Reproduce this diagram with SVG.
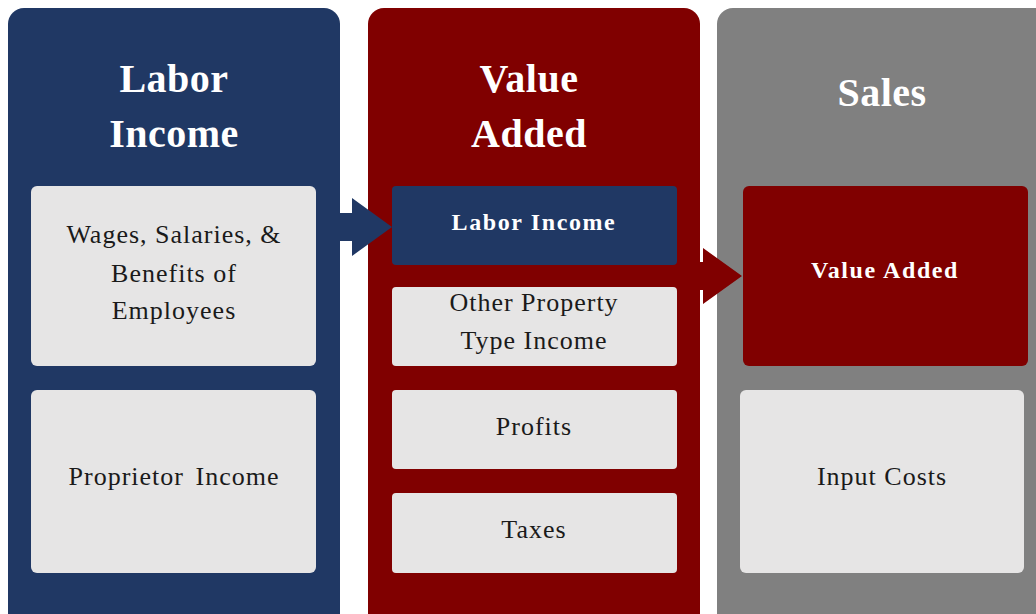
<svg xmlns="http://www.w3.org/2000/svg" width="1036" height="614" viewBox="0 0 1036 614">
<style>
.hd{font-family:"Liberation Serif","DejaVu Serif",serif;font-weight:bold;font-size:40px;fill:#fff;text-anchor:middle;letter-spacing:0.5px}
.bx{font-family:"Liberation Serif","DejaVu Serif",serif;font-size:26px;fill:#1a1a1a;text-anchor:middle;letter-spacing:1px}
.bw{font-family:"Liberation Serif","DejaVu Serif",serif;font-weight:bold;font-size:24px;fill:#fff;text-anchor:middle;letter-spacing:1.6px}
.lt{fill:#e6e5e5}
</style>
<rect width="1036" height="614" fill="#fff"/>
<g id="panel-labor">
<rect x="8" y="8" width="332" height="622" rx="16" fill="#203864"/>
<text class="hd" x="174" y="92">Labor</text>
<text class="hd" x="174" y="147">Income</text>
</g>
<g id="panel-value">
<rect x="368" y="8" width="332" height="622" rx="16" fill="#800000"/>
<text class="hd" x="529" y="92">Value</text>
<text class="hd" x="529" y="147">Added</text>
</g>
<g id="panel-sales">
<rect x="717" y="8" width="340" height="622" rx="16" fill="#808080"/>
<text class="hd" x="882" y="106">Sales</text>
</g>
<g id="wages">
<rect class="lt" x="31" y="186" width="285" height="180" rx="6"/>
<text class="bx" x="174" y="243">Wages, Salaries, &amp;</text>
<text class="bx" x="174" y="282">Benefits of</text>
<text class="bx" x="174" y="319">Employees</text>
</g>
<g id="proprietor">
<rect class="lt" x="31" y="390" width="285" height="183" rx="6"/>
<text class="bx" x="174" y="485" word-spacing="4">Proprietor Income</text>
</g>
<g id="va-labor">
<rect x="392" y="186" width="285" height="79" rx="4" fill="#203864"/>
<text class="bw" x="534" y="230">Labor Income</text>
</g>
<g id="va-other">
<rect class="lt" x="392" y="287" width="285" height="79" rx="4"/>
<text class="bx" x="534" y="311">Other Property</text>
<text class="bx" x="534" y="349">Type Income</text>
</g>
<g id="va-profits">
<rect class="lt" x="392" y="390" width="285" height="79" rx="4"/>
<text class="bx" x="534" y="435">Profits</text>
</g>
<g id="va-taxes">
<rect class="lt" x="392" y="493" width="285" height="80" rx="4"/>
<text class="bx" x="534" y="538">Taxes</text>
</g>
<g id="sales-va">
<rect x="743" y="186" width="285" height="180" rx="6" fill="#800000"/>
<text class="bw" x="885" y="278">Value Added</text>
</g>
<g id="sales-input">
<rect class="lt" x="740" y="390" width="284" height="183" rx="6"/>
<text class="bx" x="882" y="485">Input Costs</text>
</g>
<g id="connectors">
<polygon points="330,213 352,213 352,198 392,227 352,256 352,241 330,241" fill="#203864"/>
<polygon points="690,262 703,262 703,248 742,276 703,304 703,290 690,290" fill="#800000"/>
</g>
</svg>
